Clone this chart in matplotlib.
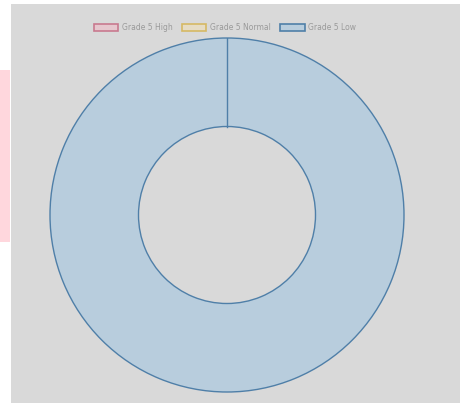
import numpy as np
import matplotlib.pyplot as plt
from matplotlib.patches import Patch, Rectangle

labels = ["Grade 5 High", "Grade 5 Normal", "Grade 5 Low"]
values = [0, 0, 100]
fills = ["#e6c7ce", "#e6dcc4", "#b8cddd"]
edges = ["#c9798f", "#d6b964", "#4f7fa8"]

W, H = 463, 407
fig = plt.figure(figsize=(W / 100, H / 100), dpi=100)
fig.patch.set_facecolor("white")

# grey panel and pink strip on the left (behind the axes)
fig.patches.append(Rectangle((11 / W, 4 / H), 449 / W, 399 / H, transform=fig.transFigure,
                             facecolor="#d9d9d9", edgecolor="none", zorder=-2))
fig.patches.append(Rectangle((0, (407 - 242) / H), 10 / W, 172 / H, transform=fig.transFigure,
                             facecolor="#ffd7dd", edgecolor="none", zorder=-2))

cx, cy, r = 227, 215, 177
ax = fig.add_axes([(cx - r) / W, (H - cy - r) / H, 2 * r / W, 2 * r / H])
ax.set_facecolor("none")
hole = 0.5
ax.pie(values, colors=fills, startangle=90, counterclock=False, radius=1,
       wedgeprops=dict(width=1 - hole, linewidth=1.0))
for w, e in zip(ax.patches, edges):
    w.set_edgecolor(e)
    # radial seam where the arc starts
    if w.theta2 - w.theta1 > 0:
        a = np.deg2rad(w.theta2)
        ax.plot([hole * np.cos(a), np.cos(a)], [hole * np.sin(a), np.sin(a)],
                color=e, linewidth=1.0)
ax.set_xlim(-1, 1)
ax.set_ylim(-1, 1)
ax.axis("off")

handles = [Patch(facecolor=f, edgecolor=e, linewidth=1.2) for f, e in zip(fills, edges)]
fig.legend(handles, labels, loc="center", bbox_to_anchor=(225 / W, 1 - 28 / H), ncol=3,
           frameon=False, fontsize=5.5, labelcolor="#9a9a9a", handlelength=3.2,
           handleheight=1.0, columnspacing=1.2, handletextpad=0.5)

fig.savefig("out.png", dpi=100)
